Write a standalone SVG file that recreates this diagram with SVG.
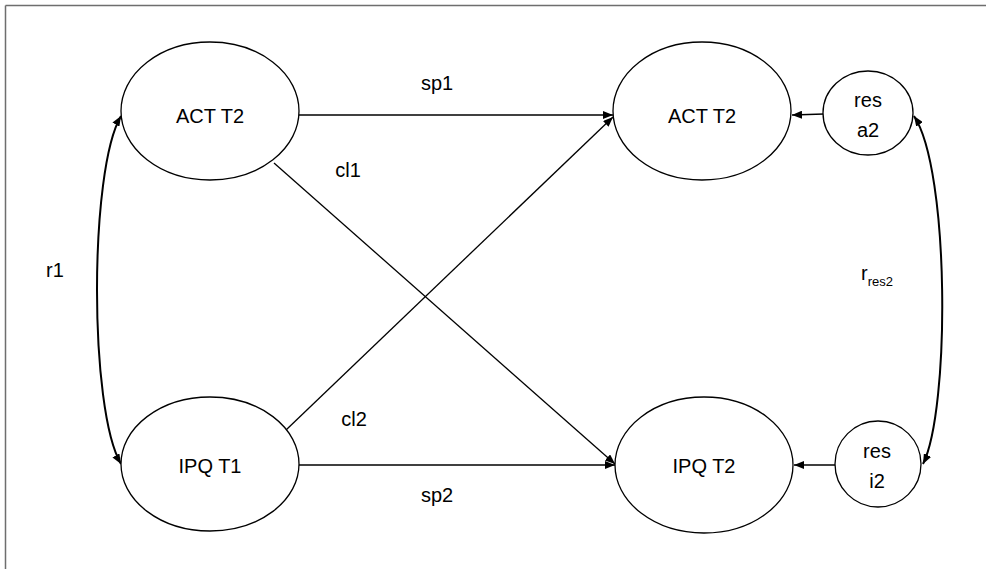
<svg xmlns="http://www.w3.org/2000/svg" width="986" height="569" viewBox="0 0 986 569">
  <style>
    .node ellipse { fill: #ffffff; stroke: #000000; stroke-width: 1.3; }
    text { font-family: "Liberation Sans", Arial, sans-serif; font-size: 20px; fill: #000000; text-anchor: middle; }
    .edge { fill: none; stroke: #000000; stroke-width: 1.3; marker-end: url(#arrow); }
    .corr { fill: none; stroke: #000000; stroke-width: 2; marker-start: url(#arrow); marker-end: url(#arrow); }
    .frame { stroke: #6e6e6e; stroke-width: 1.5; }
  </style>
  <defs>
    <marker id="arrow" markerUnits="userSpaceOnUse" viewBox="0 0 10 8" refX="10" refY="4" markerWidth="10" markerHeight="8" orient="auto-start-reverse">
      <path d="M0,0 L10,4 L0,8 Z" fill="#000000"/>
    </marker>
  </defs>
  <rect x="0" y="0" width="986" height="569" fill="#ffffff"/>
  <g id="frame">
    <line class="frame" x1="5.5" y1="5.5" x2="986" y2="5.5"/>
    <line class="frame" x1="5.5" y1="5.5" x2="5.5" y2="569"/>
  </g>

  <g id="connectors">
    <line class="edge" x1="299" y1="115" x2="613" y2="115"/>
    <line class="edge" x1="299" y1="465" x2="615" y2="465"/>
    <line class="edge" x1="274" y1="163" x2="615" y2="464"/>
    <line class="edge" x1="286" y1="430" x2="613" y2="117"/>
    <line class="edge" x1="824" y1="114" x2="792" y2="115"/>
    <line class="edge" x1="835" y1="465" x2="794" y2="465"/>
    <path class="corr" d="M121,116 C89,170 89,410 121,464"/>
    <path class="corr" d="M914,116 C950,170 950,410 923,464"/>
  </g>

  <g id="node-act-t2-left" class="node">
    <ellipse cx="210" cy="111" rx="89" ry="69"/>
    <text x="210" y="123">ACT T2</text>
  </g>
  <g id="node-ipq-t1" class="node">
    <ellipse cx="210" cy="464" rx="89" ry="67"/>
    <text x="210" y="473">IPQ T1</text>
  </g>
  <g id="node-act-t2-right" class="node">
    <ellipse cx="702" cy="111" rx="89" ry="69"/>
    <text x="702" y="123">ACT T2</text>
  </g>
  <g id="node-ipq-t2" class="node">
    <ellipse cx="704" cy="465" rx="89" ry="68"/>
    <text x="704" y="473">IPQ T2</text>
  </g>
  <g id="node-res-a2" class="node">
    <ellipse cx="868" cy="113" rx="45" ry="42"/>
    <text x="868" y="107">res</text>
    <text x="868" y="137">a2</text>
  </g>
  <g id="node-res-i2" class="node">
    <ellipse cx="878" cy="464" rx="43" ry="43"/>
    <text x="877" y="458">res</text>
    <text x="877" y="488">i2</text>
  </g>

  <g id="labels">
    <text x="437" y="90">sp1</text>
    <text x="348" y="177">cl1</text>
    <text x="55" y="277">r1</text>
    <text x="354" y="426">cl2</text>
    <text x="437" y="502">sp2</text>
    <text x="877" y="280">r<tspan font-size="13" dy="6">res2</tspan></text>
  </g>
</svg>
